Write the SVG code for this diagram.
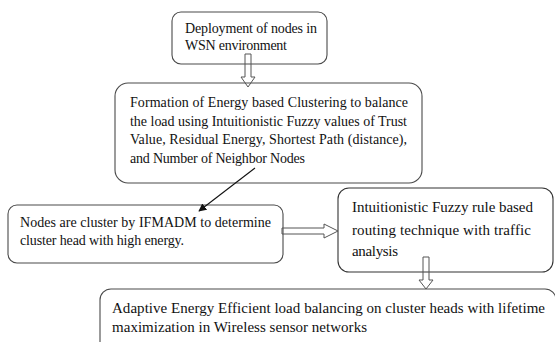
<svg xmlns="http://www.w3.org/2000/svg" width="555" height="342" viewBox="0 0 555 342">
<style>
.box{fill:#fff;stroke:#4a4a4a;stroke-width:1.1}
text{font-family:'Liberation Serif','Times New Roman',serif;fill:#111}
.t{font-size:14px}
.c{font-size:15px}
.ha{fill:none;stroke:#555;stroke-width:1}
</style>
<defs>
<marker id="ah" viewBox="0 0 10 10" refX="9" refY="5" markerWidth="8" markerHeight="8" orient="auto" markerUnits="userSpaceOnUse">
<path d="M0,0 L10,5 L0,10 z" fill="#111"/>
</marker>
</defs>
<rect width="555" height="342" fill="#fff"/>
<g id="n1">
<rect class="box" x="172" y="12" width="155" height="52" rx="9"/>
<text class="t" x="185" y="33" textLength="132" lengthAdjust="spacing">Deployment of nodes in</text>
<text class="t" x="185" y="50" textLength="102" lengthAdjust="spacing">WSN environment</text>
</g>
<g id="n2">
<rect class="box" x="115" y="83" width="307" height="100" rx="13"/>
<text class="t" x="130" y="107" textLength="278" lengthAdjust="spacing">Formation of Energy based Clustering to balance</text>
<text class="t" x="130" y="125.5" textLength="277" lengthAdjust="spacing">the load using Intuitionistic Fuzzy values of Trust</text>
<text class="t" x="130" y="144" textLength="277" lengthAdjust="spacing">Value, Residual Energy, Shortest Path (distance),</text>
<text class="t" x="130" y="162.5" textLength="175" lengthAdjust="spacing">and Number of Neighbor Nodes</text>
</g>
<g id="n3">
<rect class="box" x="8" y="205" width="275" height="58" rx="9"/>
<text class="t" x="20" y="227" textLength="251" lengthAdjust="spacing">Nodes are cluster by IFMADM to determine</text>
<text class="t" x="20" y="245" textLength="164" lengthAdjust="spacing">cluster head with high energy.</text>
</g>
<g id="n4">
<rect class="box" x="338" y="188" width="215" height="84" rx="11" style="stroke:#333"/>
<text class="c" x="352" y="212" textLength="181" lengthAdjust="spacing">Intuitionistic Fuzzy rule based</text>
<text class="c" x="352" y="235" textLength="179" lengthAdjust="spacing">routing technique with traffic</text>
<text class="c" x="352" y="256" textLength="46" lengthAdjust="spacing">analysis</text>
</g>
<g id="n5">
<rect class="box" x="100" y="289" width="456" height="70" rx="11"/>
<text class="c" x="112" y="313" textLength="433" lengthAdjust="spacing">Adaptive Energy Efficient load balancing on cluster heads with lifetime</text>
<text class="c" x="112" y="332" textLength="255" lengthAdjust="spacing">maximization in Wireless sensor networks</text>
</g>
<g id="connectors">
<polygon class="ha" points="245,54 251,54 251,77 255,77 248,87 241,77 245,77"/>
<line x1="255" y1="168" x2="199" y2="211" stroke="#111" stroke-width="1.1" marker-end="url(#ah)"/>
<polygon class="ha" points="282,228 324,228 324,224 338,231 324,238 324,234 282,234"/>
<polygon class="ha" points="423,257 429,257 429,280 433,280 426,289 419,280 423,280"/>
</g>
</svg>
